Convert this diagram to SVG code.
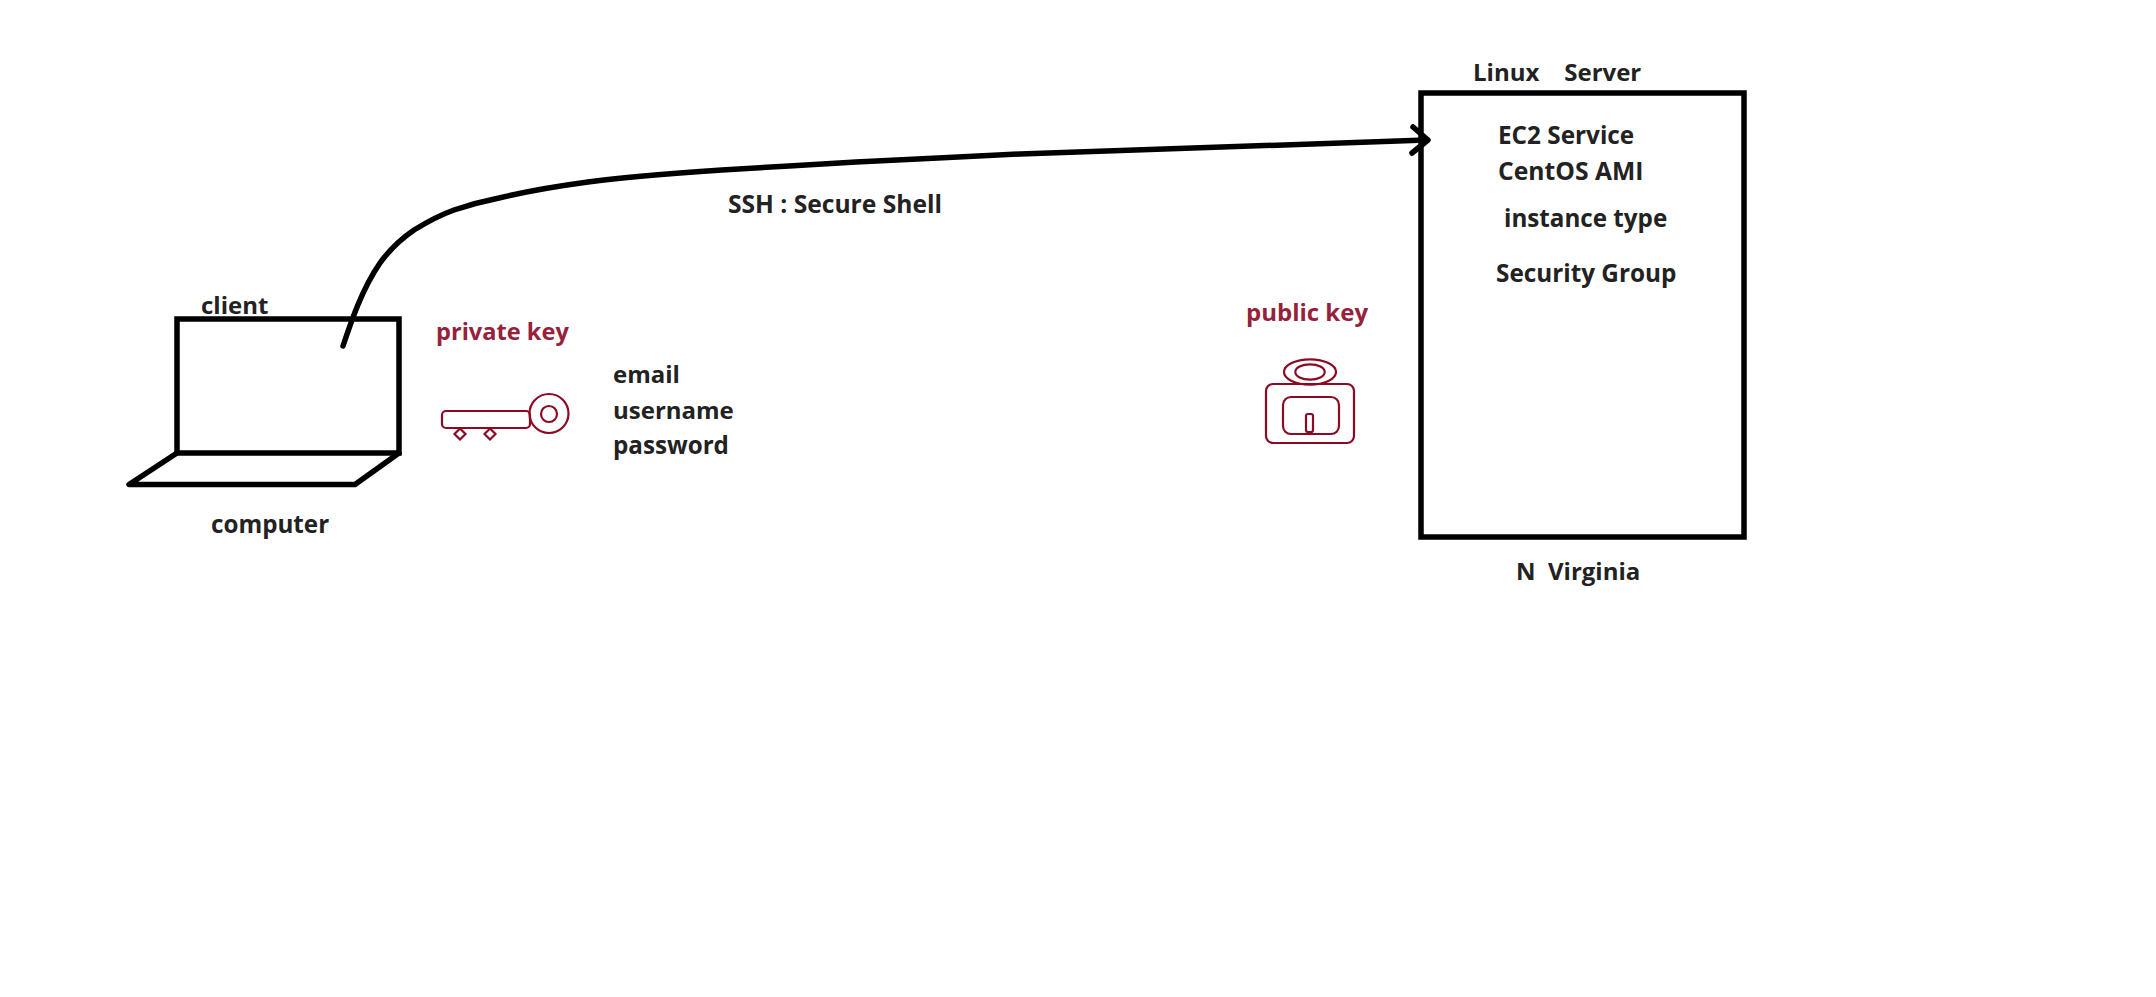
<svg xmlns="http://www.w3.org/2000/svg" width="2156" height="997" viewBox="0 0 2156 997">
<style>
text{font-family:"Open Sans","Noto Sans","Liberation Sans",sans-serif;font-weight:700;font-size:24px;fill:#222;white-space:pre}
.red{fill:#95223a}
.heavy{fill:none;stroke:#000;stroke-width:5.500;stroke-linecap:round;stroke-linejoin:round}
.box{fill:none;stroke:#000;stroke-width:5.500;stroke-linejoin:miter}
.thin{fill:none;stroke:#8b0a24;stroke-width:2.200}
</style>
<rect width="2156" height="997" fill="#fff"/>
<g id="connectors">
<path class="heavy" d="M343 346C351 322 362 289 380 263C390 249 401 239 414 230C427 222 440 215 454 210C469 205 484 201 499 198C528 191 558 186 588 182C632 176 677 173 722 170C767 167 811 165 856 162C911 159 965 157 1020 154C1156 149 1292 145 1426 140"/>
<path class="heavy" d="M1413 127L1428 140L1412 153"/>
</g>
<g id="client-computer">
<rect class="box" x="177" y="319" width="222" height="134"/>
<path class="heavy" d="M177 453L129 484.500H355L399 453"/>
<text x="201" y="313.500">client</text>
<text x="211" y="533" style="font-size:24.200px">computer</text>
</g>
<g id="private-key">
<text class="red" x="436" y="339.500" style="font-size:23.600px">private key</text>
<rect class="thin" x="442" y="411" width="88" height="17" rx="4"/>
<circle class="thin" cx="549" cy="413.500" r="19.500"/>
<circle class="thin" cx="549" cy="414" r="8"/>
<path class="thin" d="M460 428.500L465.500 434L460 439.500L454.500 434Z"/>
<path class="thin" d="M490 428.500L495.500 434L490 439.500L484.500 434Z"/>
</g>
<g id="credentials">
<text x="613" y="383">email</text>
<text x="613" y="419">username</text>
<text x="613" y="453.500" style="font-size:24.200px">password</text>
</g>
<g id="public-key">
<text class="red" x="1246" y="321">public key</text>
<ellipse class="thin" cx="1310" cy="372" rx="26" ry="12.700"/>
<ellipse class="thin" cx="1310" cy="372" rx="14.700" ry="7.700"/>
<rect class="thin" x="1266" y="384" width="88" height="59" rx="7"/>
<rect class="thin" x="1283" y="397" width="56" height="37" rx="8"/>
<rect class="thin" x="1306" y="414" width="7" height="18" rx="2"/>
</g>
<g id="linux-server">
<rect class="box" x="1421" y="93" width="323" height="444"/>
<text x="1473" y="81">Linux    Server</text>
<text x="1498" y="143.500" style="font-size:24.300px">EC2 Service</text>
<text x="1498" y="179.500" style="font-size:24.700px">CentOS AMI</text>
<text x="1504" y="226.500" style="font-size:24.200px">instance type</text>
<text x="1496" y="281.500" style="font-size:24.300px">Security Group</text>
<text x="1516" y="580">N  Virginia</text>
</g>
<g id="ssh-label">
<text x="728" y="213" style="font-size:24.600px">SSH : Secure Shell</text>
</g>
</svg>
